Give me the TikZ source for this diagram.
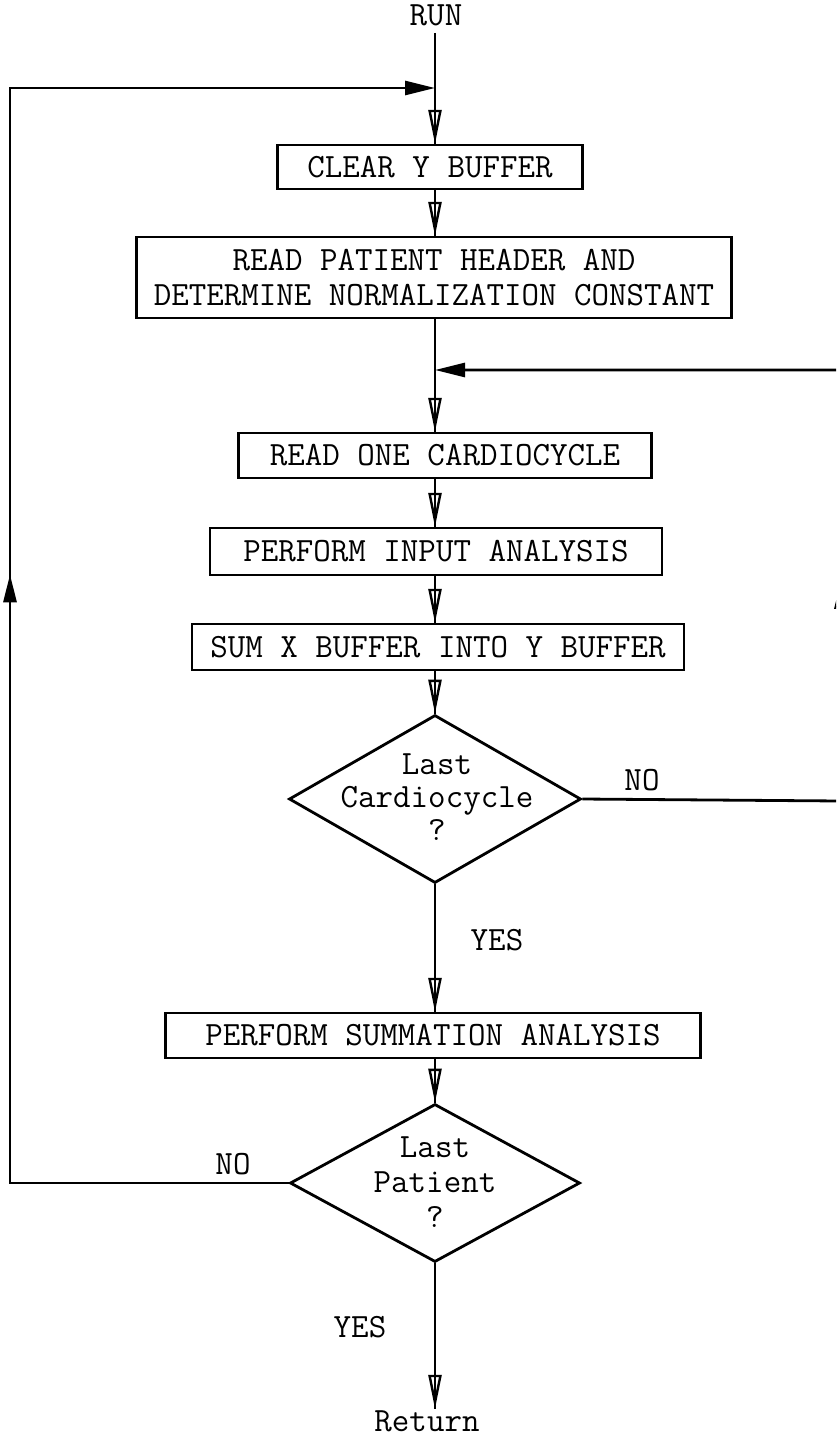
\documentclass[tikz,border=0pt]{standalone}
\usepackage{fontspec}
\usetikzlibrary{arrows.meta,shapes.geometric,decorations.markings}
\begin{document}
\begin{tikzpicture}[x=1pt,y=-1pt,
  font=\ttfamily\fontsize{34}{36}\selectfont,
  line width=2.8pt,
  stepbox/.style={draw, rectangle, inner sep=0pt, align=center, line width=2.4pt},
  decision/.style={draw, diamond, inner sep=0pt, line width=2.8pt},
  txt/.style={inner sep=0pt, align=center},
  openhead/.style={-{Triangle[open,length=34pt,width=13pt,line width=2.4pt]}},
  fullhead/.style={-{Triangle[length=30pt,width=14pt]}},
  upmark/.style={decoration={markings, mark=at position #1 with {\arrow{Triangle[length=28pt,width=13pt]}}}, postaction={decorate}}
]
\useasboundingbox (0,0) rectangle (836,1436);
\clip (0,0) rectangle (836,1436);

% nodes
\node[txt, anchor=base] (run) at (436,25) {RUN};
\coordinate (jtop) at (435,88);
\node[stepbox, minimum width=305pt, minimum height=44pt] (clr) at (430,167) {CLEAR Y BUFFER};
\node[stepbox, minimum width=595pt, minimum height=81pt] (hdr) at (434,277.5) {READ PATIENT HEADER AND\\[-1pt]DETERMINE NORMALIZATION CONSTANT};
\coordinate (jmid) at (435,370);
\node[stepbox, minimum width=413pt, minimum height=45pt] (one) at (445,455.5) {READ ONE CARDIOCYCLE};
\node[stepbox, minimum width=452pt, minimum height=47pt] (inp) at (436,551.5) {PERFORM INPUT ANALYSIS};
\node[stepbox, minimum width=492pt, minimum height=46pt] (sum) at (438,647) {SUM X BUFFER INTO Y BUFFER};
\node[decision, minimum width=292pt, minimum height=168pt] (d1) at (435,799) {};
\node[txt] at (437,797) {Last\\[-3pt]Cardiocycle\\[-3pt]?};
\node[txt] (no1) at (642,780) {NO};
\node[txt] (yes1) at (497,940) {YES};
\node[stepbox, minimum width=535pt, minimum height=45pt] (summ) at (433,1035.5) {PERFORM SUMMATION ANALYSIS};
\node[decision, minimum width=290pt, minimum height=158pt] (d2) at (435,1183) {};
\node[txt] at (435,1182) {Last\\[-1pt]Patient\\[-1pt]?};
\node[txt] (no2) at (233,1164) {NO};
\node[txt] (yes2) at (360,1327) {YES};
\node[txt, anchor=base] (ret) at (427,1431) {Return};
\coordinate (lbot) at (10,1183);
\coordinate (ltop) at (10,88);
\coordinate (rbot) at (841,801);
\coordinate (rtop) at (841,370);

% main flow
\draw (run.south -| jtop) ++(0,6) -- (jtop);
\draw[openhead] (jtop) ++(0,20) -- (clr.north -| jtop);
\draw (jtop) -- (clr.north -| jtop);
\draw[openhead] (clr.south -| jtop) -- (hdr.north -| jtop);
\draw (clr.south -| jtop) -- (hdr.north -| jtop);
\draw (hdr.south -| jmid) -- (jmid);
\draw[openhead] (jmid) -- (one.north -| jmid);
\draw (jmid) -- (one.north -| jmid);
\draw[openhead] (one.south -| jmid) -- (inp.north -| jmid);
\draw (one.south -| jmid) -- (inp.north -| jmid);
\draw[openhead] (inp.south -| jmid) -- (sum.north -| jmid);
\draw (inp.south -| jmid) -- (sum.north -| jmid);
\draw[openhead] (sum.south -| jmid) -- (d1.north);
\draw (sum.south -| jmid) -- (d1.north);
\draw[openhead] (d1.south) -- (summ.north -| d1.south);
\draw (d1.south) -- (summ.north -| d1.south);
\draw[openhead] (summ.south -| d2.north) -- (d2.north);
\draw (summ.south -| d2.north) -- (d2.north);
\draw[openhead] (d2.south) -- (ret.north -| d2.south);
\draw (d2.south) -- (ret.north -| d2.south);

% loops
\draw[fullhead, upmark=0.4933] (d2.west) -- (lbot) -- (ltop) -- (jtop);
\draw[fullhead, upmark=0.437] (d1.east) -- (rbot) -- (rtop) -- (jmid);
\end{tikzpicture}
\end{document}
